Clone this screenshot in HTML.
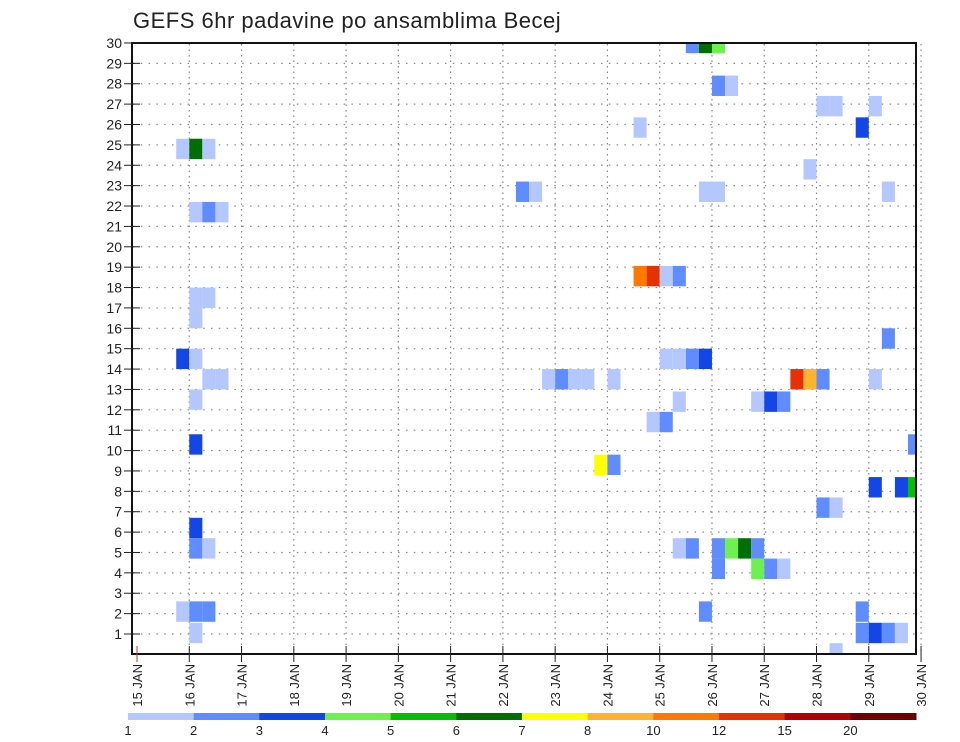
<!DOCTYPE html>
<html><head><meta charset="utf-8"><style>
html,body{margin:0;padding:0;background:#fff;}
svg{display:block;font-family:"Liberation Sans",sans-serif;}
</style></head><body>
<svg id="chart" width="960" height="742" viewBox="0 0 960 742">
<text x="133" y="28" font-size="22" fill="#222" letter-spacing="0.5">GEFS 6hr padavine po ansamblima Becej</text>
<defs><clipPath id="plotclip"><rect x="132" y="43" width="784" height="611"/></clipPath></defs>
<g id="grid"></g>
<g id="cells" clip-path="url(#plotclip)"></g>
<rect x="132" y="43" width="784" height="611" fill="none" stroke="#111" stroke-width="2"/>
<g id="yaxis"></g>
<g id="xaxis"></g>
<g id="legend"></g>
</svg>
<script>
// 6-hour step index from 15 JAN 00Z, ensemble member row, precipitation (mm)
const cellTime = [3,4,5,6,4,4,4,4,5,3,4,5,4,3,4,5,4,5,6,4,5,4,42,43,44,44,45,38,29,30,43,44,38,39,40,41,52,53,56,55,51,57,57,40,41,42,43,31,32,33,34,36,50,51,52,56,41,47,48,49,39,40,59,35,36,56,58,59,52,53,41,42,44,45,46,47,44,47,48,49,43,55,55,56,57,58,53];
const cellRow = [14.5,14.5,13.5,13.5,12.5,10.3,6.2,5.2,5.2,2.1,2.1,2.1,1.05,24.8,24.8,24.8,21.7,21.7,21.7,17.5,17.5,16.5,30,30,30,27.9,27.9,25.85,22.7,22.7,22.7,22.7,18.56,18.56,18.56,18.56,26.9,26.9,26.9,25.85,23.8,22.7,15.5,14.5,14.5,14.5,14.5,13.5,13.5,13.5,13.5,13.5,13.5,13.5,13.5,13.5,12.4,12.4,12.4,12.4,11.4,11.4,10.3,9.3,9.3,8.2,8.2,8.2,7.2,7.2,5.2,5.2,5.2,5.2,5.2,5.2,4.2,4.2,4.2,4.2,2.1,2.1,1.05,1.05,1.05,1.05,0.05];
const cellValue = [3.5,1.5,1.5,1.5,1.5,3.5,3.5,2.5,1.5,1.5,2.5,2.5,1.5,1.5,6.5,1.5,1.5,2.5,1.5,1.5,1.5,1.5,2.5,6.5,4.5,2.5,1.5,1.5,2.5,1.5,1.5,1.5,11,13.5,1.5,2.5,1.5,1.5,1.5,3.5,1.5,1.5,2.5,1.5,1.5,2.5,3.5,1.5,2.5,1.5,1.5,1.5,13.5,9,2.5,1.5,1.5,1.5,3.5,2.5,1.5,2.5,2.5,7.5,2.5,3.5,3.5,5.5,2.5,1.5,1.5,2.5,2.5,4.5,6.5,2.5,2.5,4.5,2.5,1.5,2.5,2.5,2.5,3.5,2.5,1.5,1.5];
const levels = [1,2,3,4,5,6,7,8,10,12,15,20];
const levelColors = ["#b4c8ff","#5f8cff","#1446e6","#6ef050","#00c000","#006e00","#ffff00","#ffb42d","#ff7800","#e63200","#b40000","#6e0000"];
const dayLabels = ["15","16","17","18","19","20","21","22","23","24","25","26","27","28","29","30"];
const rowLabels = [1,2,3,4,5,6,7,8,9,10,11,12,13,14,15,16,17,18,19,20,21,22,23,24,25,26,27,28,29,30];

const NS="http://www.w3.org/2000/svg";
const X0=137, DAY=52.27, STEP=DAY/4;
const xT = i => X0 + i*STEP;
const xD = d => X0 + d*DAY;
const yR = r => 634 - (r-1)*20.38;
function mk(tag, attrs, parent){const e=document.createElementNS(NS,tag);for(const k in attrs)e.setAttribute(k,attrs[k]);parent.appendChild(e);return e;}
function colorFor(v){let c=0;for(let k=0;k<levels.length;k++){if(v>=levels[k])c=k;}return levelColors[c];}

const grid=document.getElementById('grid');
rowLabels.forEach(r=>{
  const l=mk('line',{x1:133,x2:915,y1:yR(r),y2:yR(r),stroke:"#888","stroke-width":1.2,"stroke-dasharray":"1.5,6.3"},grid);
  
  
});
dayLabels.forEach((d,k)=>{
  if(k===0) return;
  const l=mk('line',{x1:xD(k),x2:xD(k),y1:44,y2:653,stroke:"#888","stroke-width":1.2,"stroke-dasharray":"1.5,4"},grid);
  
  
});

const cells=document.getElementById('cells');
for(let n=0;n<cellTime.length;n++){
  const r=mk('rect',{x:xT(cellTime[n]),y:yR(cellRow[n])-10.2,width:STEP,height:20.4,fill:colorFor(cellValue[n])},cells);
  
  
}

const ya=document.getElementById('yaxis');
rowLabels.forEach(r=>{
  const t=mk('line',{x1:124,x2:140,y1:yR(r),y2:yR(r),stroke:"#222","stroke-width":1},ya);
  
  
  const tx=mk('text',{x:122,y:yR(r)+5,"font-size":14,"text-anchor":"end",fill:"#222"},ya);
  tx.textContent=r;
  
  
});

const xa=document.getElementById('xaxis');
dayLabels.forEach((d,k)=>{
  const x=xD(k);
  const t=mk('line',{x1:x,x2:x,y1:646,y2:662,stroke:k===0?"#c33":"#222","stroke-width":1},xa);
  
  
  const tx=mk('text',{x:0,y:0,"font-size":13,fill:"#222","text-anchor":"end",transform:`translate(${x+5},664) rotate(-90)`},xa);
  tx.textContent=d+" JAN";
  
  
});

const lg=document.getElementById('legend');
const LW=(916-128)/levels.length;
levels.forEach((lv,k)=>{
  const r=mk('rect',{x:128+k*LW,y:713,width:LW+0.5,height:7,fill:levelColors[k]},lg);
  
  
  const tx=mk('text',{x:128+k*LW,y:735,"font-size":13,"text-anchor":"middle",fill:"#222"},lg);
  tx.textContent=lv;
  
  
});
</script>
</body></html>
